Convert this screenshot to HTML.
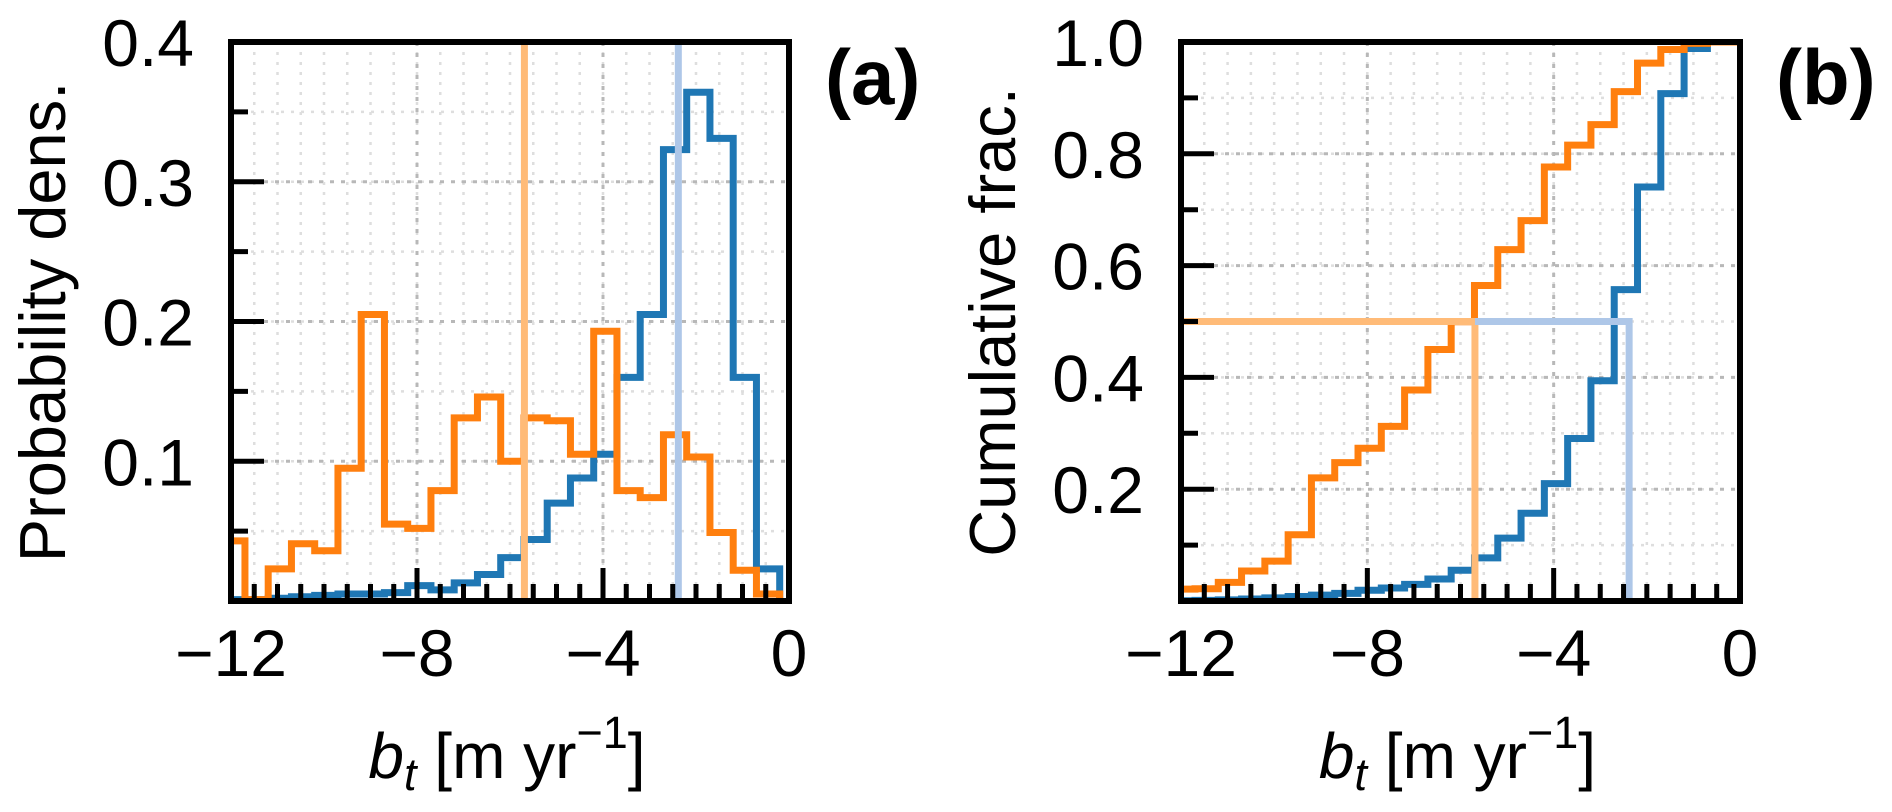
<!DOCTYPE html>
<html><head><meta charset="utf-8"><style>
html,body{margin:0;padding:0;background:#fff;}
svg{display:block;font-family:"Liberation Sans",Arial,sans-serif;}
</style></head><body>
<svg id="fig" width="1892" height="812" viewBox="0 0 1892 812" xmlns="http://www.w3.org/2000/svg">
<defs>
<clipPath id="clipA"><rect x="231" y="42" width="558" height="559"/></clipPath>
<clipPath id="clipB"><rect x="1181" y="42" width="559" height="559"/></clipPath>
</defs>
<g id="panelA"></g>
<g id="panelB"></g>
</svg>
<script>
// ---- data ----
const binEdges = [-12.2,-11.7,-11.2,-10.7,-10.2,-9.7,-9.2,-8.7,-8.2,-7.7,-7.2,-6.7,-6.2,-5.7,-5.2,-4.7,-4.2,-3.7,-3.2,-2.7,-2.2,-1.7,-1.2,-0.7,-0.2];
const blueDensity = [0.001,0.001,0.002,0.003,0.004,0.005,0.005,0.006,0.011,0.008,0.013,0.019,0.031,0.044,0.070,0.088,0.105,0.160,0.205,0.323,0.364,0.331,0.160,0.023];
const orangeDensity = [0.043,0.001,0.023,0.041,0.036,0.095,0.205,0.055,0.052,0.079,0.131,0.146,0.100,0.131,0.129,0.105,0.193,0.079,0.074,0.119,0.103,0.049,0.022,0.005];
const orangeMedian = -5.69;
const blueMedian = -2.38;
const xTicks = [-12,-8,-4,0];
const xTickLabels = ["\u221212","\u22128","\u22124","0"];
const yTicksA = [0.1,0.2,0.3,0.4];
const yTickLabelsA = ["0.1","0.2","0.3","0.4"];
const yTicksB = [0.2,0.4,0.6,0.8,1.0];
const yTickLabelsB = ["0.2","0.4","0.6","0.8","1.0"];

const NS="http://www.w3.org/2000/svg";
function mk(tag, parent, attrs){const e=document.createElementNS(NS,tag);for(const k in attrs)e.setAttribute(k,attrs[k]);parent.appendChild(e);return e;}

const BLUE="#1f77b4", ORANGE="#ff7f0e", LBLUE="#aec7e8", LORANGE="#ffbb78";
const Y0=601, Y1=42;
const LW=7;

function setupPanel(g, px0, px1, ymax, yMinorStep, yTicks, clipId){
  const xs = v => px0 + (v+12)/12*(px1-px0);
  const ys = v => Y0 - v/ymax*(Y0-Y1);
  const grid = mk('g', g, {'clip-path':'url(#'+clipId+')'});
  
  
  for(let v=-12; v<=0.001; v+=0.5){
    const l=mk('line',grid,{x1:xs(v),x2:xs(v),y1:Y1,y2:Y0,stroke:'#dedede','stroke-width':2.5,'stroke-dasharray':'3 7'});
    
    
  }
  for(let v=yMinorStep; v<ymax+1e-6; v+=yMinorStep){
    const l=mk('line',grid,{x1:px0,x2:px1,y1:ys(v),y2:ys(v),stroke:'#dedede','stroke-width':2.5,'stroke-dasharray':'3 7'});
    
    
  }
  xTicks.forEach(v=>{
    const l=mk('line',grid,{x1:xs(v),x2:xs(v),y1:Y1,y2:Y0,stroke:'#b8b8b8','stroke-width':3,'stroke-dasharray':'4 7'});
    
    
  });
  yTicks.forEach(v=>{
    const l=mk('line',grid,{x1:px0,x2:px1,y1:ys(v),y2:ys(v),stroke:'#b8b8b8','stroke-width':3,'stroke-dasharray':'4 7'});
    
    
  });
  const plot = mk('g', g, {'clip-path':'url(#'+clipId+')'});
  
  
  return {xs, ys, plot};
}

function finishPanel(g, px0, px1, ymax, yMinorStep, yTicks, yLabels, ylabel, tag, xs, ys){
  const ax = mk('g', g, {});
  
  
  for(let v=-11.5; v<0; v+=0.5){
    if(Math.abs(v%4)<1e-6) continue;
    const t=mk('line',ax,{x1:xs(v),x2:xs(v),y1:Y0,y2:Y0-17,stroke:'#000','stroke-width':5});
    
    
  }
  xTicks.forEach((v,i)=>{
    const t=mk('line',ax,{x1:xs(v),x2:xs(v),y1:Y0,y2:Y0-33,stroke:'#000','stroke-width':5});
    
    
    const tx=mk('text',ax,{x:xs(v),y:676,'font-size':66,'text-anchor':'middle',fill:'#000'});
    tx.textContent=xTickLabels[i];
    
    
  });
  for(let v=yMinorStep; v<ymax-1e-6; v+=yMinorStep){
    if(yTicks.some(t=>Math.abs(t-v)<1e-6)) continue;
    const t=mk('line',ax,{x1:px0,x2:px0+17,y1:ys(v),y2:ys(v),stroke:'#000','stroke-width':5});
    
    
  }
  yTicks.forEach((v,i)=>{
    const t=mk('line',ax,{x1:px0,x2:px0+33,y1:ys(v),y2:ys(v),stroke:'#000','stroke-width':5});
    
    
    const tx=mk('text',ax,{x:px0-37,y:ys(v)+24,'font-size':66,'text-anchor':'end',fill:'#000'});
    tx.textContent=yLabels[i];
    
    
  });
  const r=mk('rect',ax,{x:px0,y:Y1,width:px1-px0,height:Y0-Y1,fill:'none',stroke:'#000','stroke-width':6});
  
  
  const yl=mk('text',ax,{x:0,y:0,'font-size':65,'text-anchor':'middle',fill:'#000',transform:'translate('+(px0-166)+',322) rotate(-90)'});
  yl.textContent=ylabel;
  
  
  const cx=(px0+px1)/2-3;
  const xl=mk('text',ax,{x:cx,y:778,'font-size':64,'text-anchor':'middle',fill:'#000'});
  
  
  const t1=mk('tspan',xl,{'font-style':'italic'}); t1.textContent='b';
  const t2=mk('tspan',xl,{'font-style':'italic','font-size':45,dy:12}); t2.textContent='t';
  const t3=mk('tspan',xl,{dy:-12}); t3.textContent=' [m yr';
  const t4=mk('tspan',xl,{'font-size':45,dy:-30}); t4.textContent='\u22121';
  const t5=mk('tspan',xl,{dy:30}); t5.textContent=']';
  const pt=mk('text',ax,{x:px1+36,y:104,'font-size':78,'font-weight':'bold','text-anchor':'start',fill:'#000'});
  pt.textContent=tag;
  
  
}

// ---- Panel A ----
const gA=document.getElementById('panelA');
const A=setupPanel(gA,231,789,0.4,0.05,yTicksA,'clipA');
function histPath(vals, xs, ys){
  let d='M'+xs(binEdges[0])+' '+ys(0);
  vals.forEach((v,i)=>{ d+=' L'+xs(binEdges[i])+' '+ys(v)+' L'+xs(binEdges[i+1])+' '+ys(v); });
  d+=' L'+xs(binEdges[binEdges.length-1])+' '+ys(0);
  return d;
}
const hb=mk('path',A.plot,{d:histPath(blueDensity,A.xs,A.ys),fill:'none',stroke:BLUE,'stroke-width':LW,'stroke-linejoin':'miter'});


const ho=mk('path',A.plot,{d:histPath(orangeDensity,A.xs,A.ys),fill:'none',stroke:ORANGE,'stroke-width':LW,'stroke-linejoin':'miter'});


const mo=mk('line',A.plot,{x1:A.xs(orangeMedian),x2:A.xs(orangeMedian),y1:Y1,y2:Y0,stroke:LORANGE,'stroke-width':LW});


const mb=mk('line',A.plot,{x1:A.xs(blueMedian),x2:A.xs(blueMedian),y1:Y1,y2:Y0,stroke:LBLUE,'stroke-width':LW});


finishPanel(gA,231,789,0.4,0.05,yTicksA,yTickLabelsA,'Probability dens.','(a)',A.xs,A.ys);

// ---- Panel B ----
const gB=document.getElementById('panelB');
const B=setupPanel(gB,1181,1740,1.0,0.1,yTicksB,'clipB');
function cdfPath(vals, xs, ys){
  const tot=vals.reduce((a,b)=>a+b,0);
  let c=0, d='';
  vals.forEach((v,i)=>{ c+=v; const L=c/tot;
    d+=(i===0?'M':' L')+xs(binEdges[i])+' '+ys(L)+' L'+xs(binEdges[i+1])+' '+ys(L); });
  d+=' L'+xs(0.3)+' '+ys(1);
  return d;
}
const cb=mk('path',B.plot,{d:cdfPath(blueDensity,B.xs,B.ys),fill:'none',stroke:BLUE,'stroke-width':LW});


const co=mk('path',B.plot,{d:cdfPath(orangeDensity,B.xs,B.ys),fill:'none',stroke:ORANGE,'stroke-width':LW});


const lo=mk('path',B.plot,{d:'M'+B.xs(-12.5)+' '+B.ys(0.5)+' L'+B.xs(orangeMedian)+' '+B.ys(0.5)+' L'+B.xs(orangeMedian)+' '+B.ys(0),fill:'none',stroke:LORANGE,'stroke-width':LW});


const lb=mk('path',B.plot,{d:'M'+B.xs(orangeMedian)+' '+B.ys(0.5)+' L'+B.xs(blueMedian)+' '+B.ys(0.5)+' L'+B.xs(blueMedian)+' '+B.ys(0),fill:'none',stroke:LBLUE,'stroke-width':LW});


finishPanel(gB,1181,1740,1.0,0.1,yTicksB,yTickLabelsB,'Cumulative frac.','(b)',B.xs,B.ys);
</script>
</body></html>
